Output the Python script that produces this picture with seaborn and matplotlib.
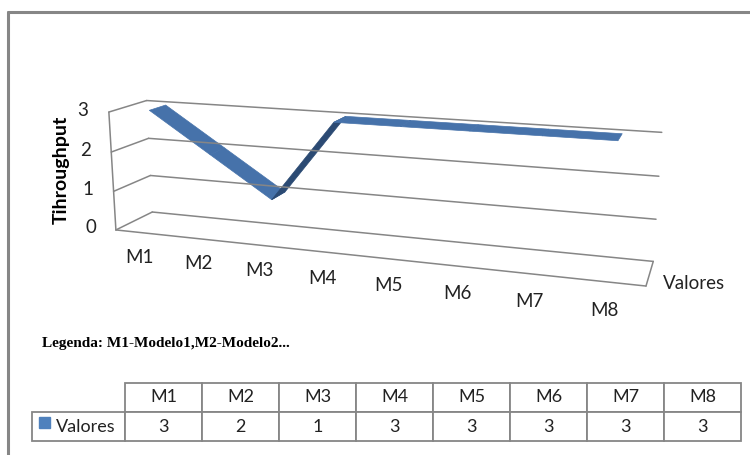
import matplotlib.pyplot as plt
import seaborn as sns
import numpy as np
from matplotlib.lines import Line2D
from matplotlib.patches import Rectangle
from mpl_toolkits.mplot3d.art3d import Poly3DCollection

# Data
modelos = ["M1", "M2", "M3", "M4", "M5", "M6", "M7", "M8"]
valores = [3, 2, 1, 3, 3, 3, 3, 3]
serie = "Valores"
niveis = [0, 1, 2, 3]
titulo_y = "Tihroughput"
legenda = "Legenda: M1-Modelo1,M2-Modelo2..."

sns.set_theme(style="white")
plt.rcParams['font.family'] = ['Lato', 'DejaVu Sans']

cinza = "#868686"
azul = "#4672AA"
azul_escuro = "#2B4A73"

W, H = 750, 455
fig = plt.figure(figsize=(W / 100, H / 100), dpi=100)

# outer frame (top and left edges visible)
fig.add_artist(Line2D([8 / W, 8 / W], [0, 1 - 12 / H], color=cinza, lw=2.2))
fig.add_artist(Line2D([8 / W, 1], [1 - 12 / H, 1 - 12 / H], color=cinza, lw=2.2))

# 3D line chart: large square axes (no clipping), zoom sets the scale
S, cx, cy = 800, 361, 195
ax = fig.add_axes([(cx - S / 2) / W, 1 - (cy + S / 2) / H, S / W, S / H], projection="3d")
ax.patch.set_alpha(0)
ax.set_proj_type("persp", focal_length=0.25)
ax.view_init(elev=14, azim=-71)
ax.set_box_aspect((8, 1.1, 1.85), zoom=0.69)
ax.set_axis_off()

n = len(valores)
x = np.arange(1, n + 1)
x0, x1 = 0.5, n + 0.5
zmax = max(niveis)

# walls and floor
for z in niveis:
    ax.plot([x0, x1], [1, 1], [z, z], color=cinza, lw=1.1)
    ax.plot([x0, x0], [0, 1], [z, z], color=cinza, lw=1.1)
ax.plot([x0, x0], [0, 0], [0, zmax], color=cinza, lw=1.1)
ax.plot([x0, x1], [0, 0], [0, 0], color=cinza, lw=1.1)
ax.plot([x1, x1], [0, 1], [0, 0], color=cinza, lw=1.1)

# ribbon
y0, y1 = 0.3, 0.75
faces, cores = [], []
for i in range(n - 1):
    faces.append([(x[i], y0, valores[i]), (x[i + 1], y0, valores[i + 1]),
                  (x[i + 1], y1, valores[i + 1]), (x[i], y1, valores[i])])
    cores.append(azul_escuro if valores[i + 1] > valores[i] else azul)
ax.add_collection3d(Poly3DCollection(faces, facecolors=cores, edgecolors=cores, linewidths=0.5))

# labels
for xi, m in zip(x, modelos):
    ax.text(xi, -0.15, -0.55, m, ha="center", va="center", fontsize=13.5, color="#222222")
for z in niveis:
    ax.text(x0 - 0.45, 0, z, str(z), ha="center", va="center", fontsize=13.5, color="#222222")
ax.text(x1 + 0.2, 0.15, 0, serie, ha="left", va="center", fontsize=13.5, color="#222222")

ax.set_xlim(x0, x1)
ax.set_ylim(0, 1)
ax.set_zlim(0, zmax)

fig.text(61 / W, 1 - 170 / H, titulo_y, rotation=90, ha="center", va="center",
         fontsize=14, fontweight="bold", color="black")
fig.text(42 / W, 1 - 343 / H, legenda, ha="left", va="center", fontsize=11,
         fontweight="bold", family=["Liberation Serif", "DejaVu Serif"], color="black")

# data table
tab = fig.add_axes([32 / W, 1 - 441 / H, 709 / W, 58 / H])
tab.set_axis_off()
larg = [93] + [77] * n
larg = [w / sum(larg) for w in larg]
t = tab.table(cellText=[[""] + modelos, [serie] + [str(v) for v in valores]],
              colWidths=larg, cellLoc="center", bbox=[0, 0, 1, 1])
t.auto_set_font_size(False)
for (r, c), cell in t.get_celld().items():
    cell.set_edgecolor(cinza)
    cell.set_linewidth(1.3)
    cell.get_text().set_fontsize(13)
    cell.get_text().set_color("#222222")
    if r == 0 and c == 0:
        cell.visible_edges = ""
t[1, 0].get_text().set_ha("right")
t[1, 0]._loc = "right"
tab.add_patch(Rectangle((7 / 709, 0.22), 11 / 709, 0.2, color="#4F81BD", transform=tab.transAxes))

fig.savefig("out.png", dpi=100)
